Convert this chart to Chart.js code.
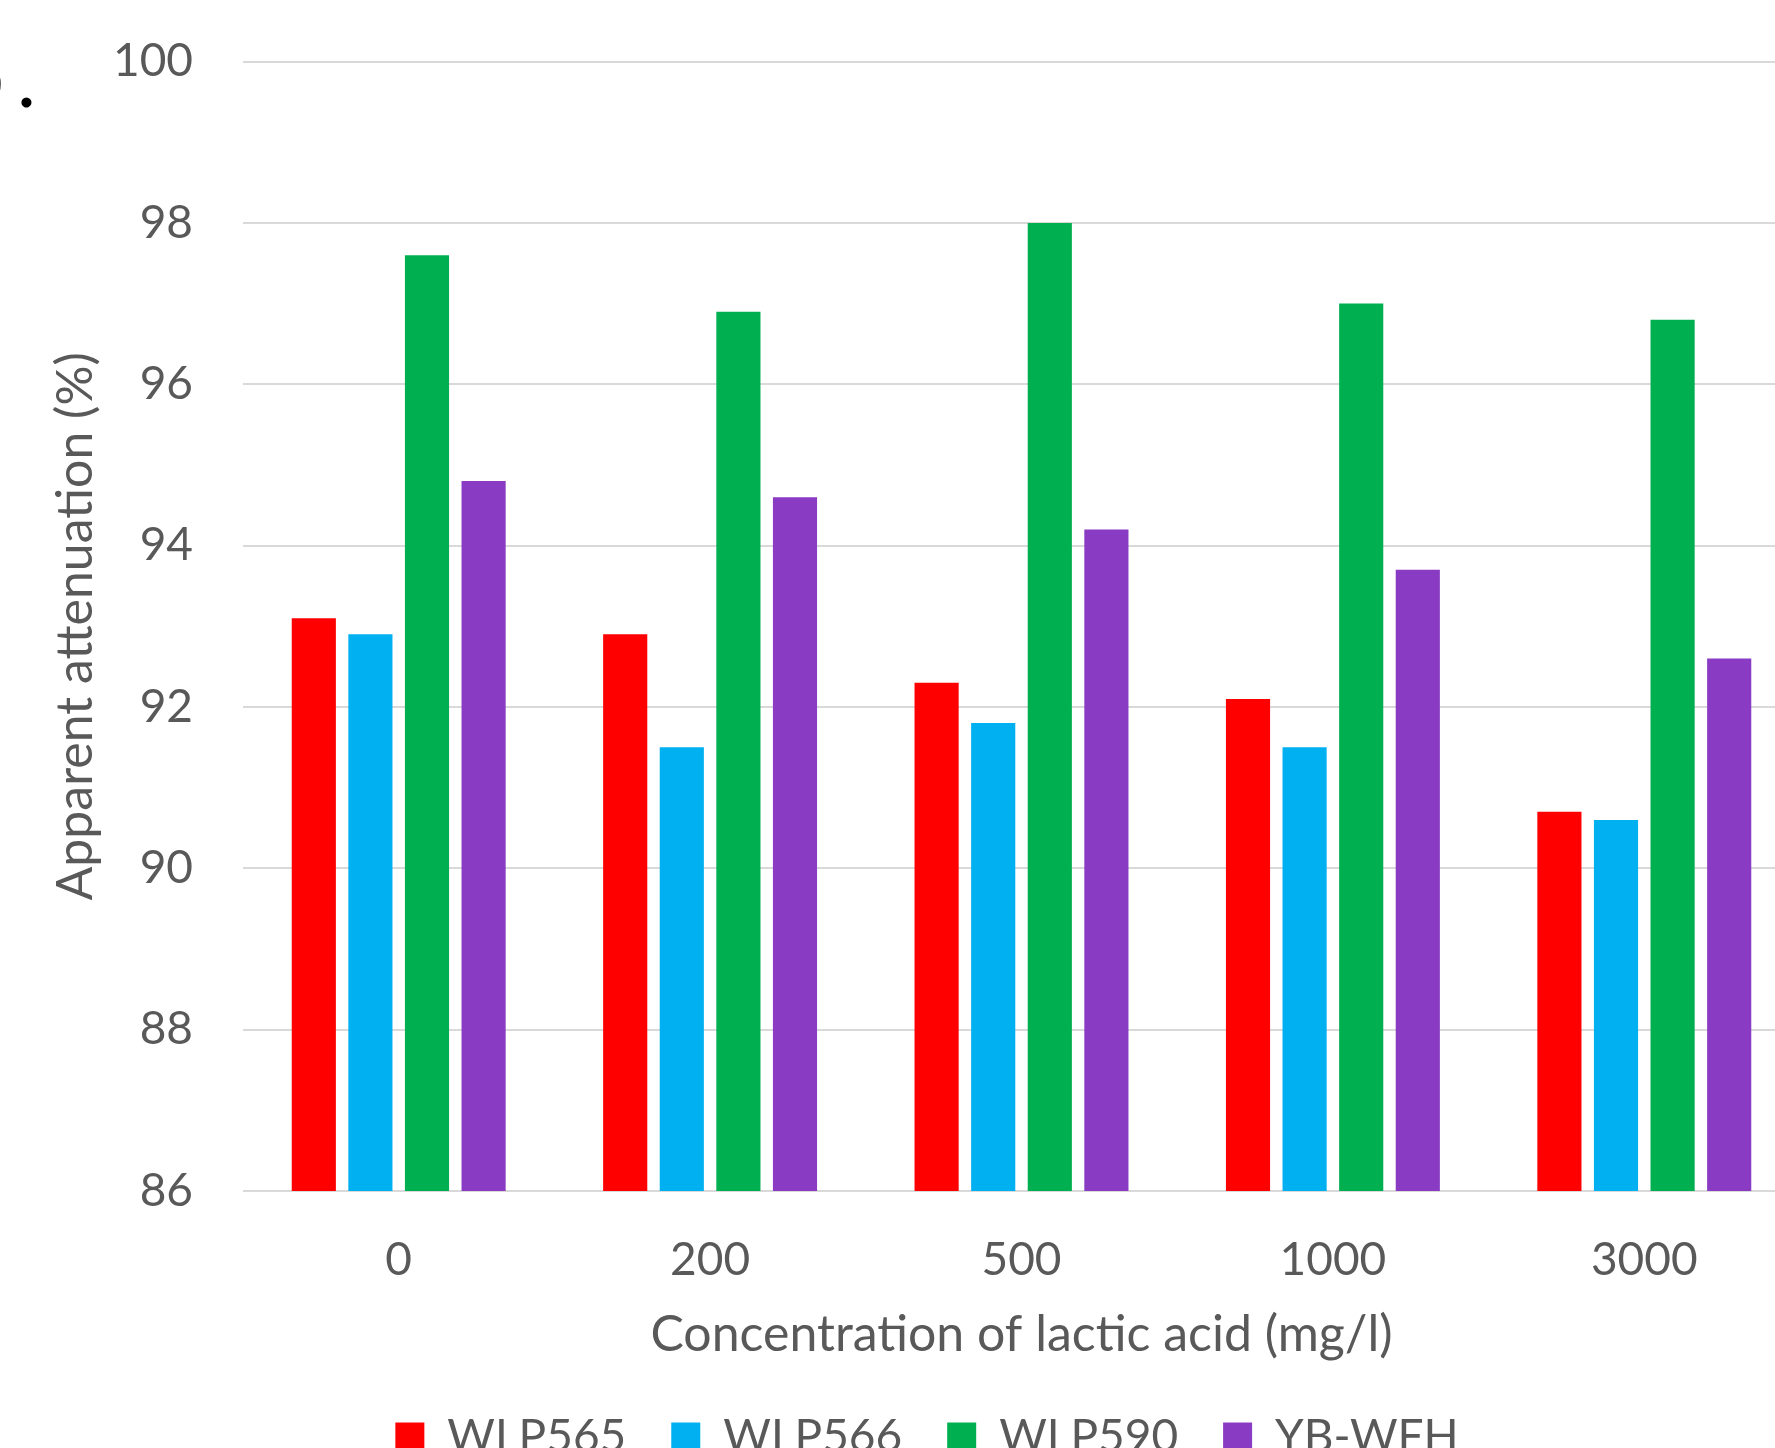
<!DOCTYPE html>
<html>
<head>
<meta charset="utf-8">
<script src="https://cdn.jsdelivr.net/npm/chart.js@4.4.1/dist/chart.umd.min.js"></script>
<style>
  html, body { margin: 0; padding: 0; overflow: hidden; background: #fff; }
  #wrap { position: relative; width: 1854px; height: 1470px; }
</style>
</head>
<body>
<div id="wrap"><canvas id="chart"></canvas></div>
<script>
// lactic acid concentrations (mg/l)
const concentrations = ['0', '200', '500', '1000', '3000'];

// apparent attenuation (%) per yeast strain
const wlp565 = [93.1, 92.9, 92.3, 92.1, 90.7];
const wlp566 = [92.9, 91.5, 91.8, 91.5, 90.6];
const wlp590 = [97.6, 96.9, 98.0, 97.0, 96.8];
const ybwfh  = [94.8, 94.6, 94.2, 93.7, 92.6];

const strainNames = ['WLP565', 'WLP566', 'WLP590', 'YB-WFH'];
const strainValues = [wlp565, wlp566, wlp590, ybwfh];

const yTicks = [86, 88, 90, 92, 94, 96, 98, 100];

const FONT = 'Lato';
const TEXT = '#595959';

function getColor(name) {
    if (name === 'WLP565') return '#FF0000';
    if (name === 'WLP566') return '#00B0F0';
    if (name === 'WLP590') return '#00AF50';
    if (name === 'YB-WFH') return '#8A3BC3';
}

// the panel letter that sits cut off at the top left
const panelLabel = {
    id: 'panelLabel',
    afterDraw(chart) {
        const ctx = chart.ctx;
        ctx.save();
        ctx.fillStyle = '#000';
        ctx.font = '80px ' + FONT;
        ctx.textBaseline = 'alphabetic';
        ctx.textAlign = 'right';
        ctx.fillText('b', 4, 105);
        ctx.textAlign = 'left';
        ctx.fillText('.', 17, 107);
        ctx.restore();
    }
};

new Chart(document.querySelector('#chart').getContext('2d'), {
    type: 'bar',
    data: {
        labels: concentrations,
        datasets: strainNames.map((name, i) => ({
            label: name,
            data: strainValues[i],
            backgroundColor: getColor(name),
            borderWidth: 0,
            barPercentage: 0.78,
            categoryPercentage: 0.727
        }))
    },
    options: {
        responsive: true,
        maintainAspectRatio: false,
        devicePixelRatio: 1,
        animation: false,
        layout: { padding: 0 },
        plugins: {
            tooltip: { enabled: false },
            legend: {
                position: 'bottom',
                labels: {
                    color: TEXT,
                    font: { family: FONT, size: 46 },
                    boxWidth: 29,
                    boxHeight: 29,
                    padding: 45
                }
            }
        },
        scales: {
            x: {
                grid: { display: false },
                border: { display: false },
                ticks: { color: TEXT, font: { family: FONT, size: 46 }, padding: 34 },
                title: {
                    display: true,
                    text: 'Concentration of lactic acid (mg/l)',
                    color: TEXT,
                    font: { family: FONT, size: 50 },
                    padding: { top: 0, bottom: 4 }
                },
                afterFit(scale) { scale.height = 178; }
            },
            y: {
                min: 86,
                max: 100,
                afterBuildTicks(scale) { scale.ticks = yTicks.map(v => ({ value: v })); },
                grid: { color: '#D9D9D9', lineWidth: 2, drawTicks: true, tickLength: 16, tickColor: 'rgba(0,0,0,0)' },
                border: { display: false },
                ticks: { color: TEXT, font: { family: FONT, size: 46 }, padding: 34 },
                title: {
                    display: true,
                    text: 'Apparent attenuation (%)',
                    color: TEXT,
                    font: { family: FONT, size: 50 },
                    padding: { top: 46, bottom: 0 }
                },
                afterFit(scale) { scale.width = 243; }
            },
            // empty right axis, only reserves room so the plot runs past the window edge
            yRight: {
                position: 'right',
                display: true,
                grid: { display: false },
                border: { display: false },
                ticks: { display: false },
                afterFit(scale) { scale.width = 54; }
            }
        }
    },
    plugins: [panelLabel]
});
</script>
</body>
</html>
